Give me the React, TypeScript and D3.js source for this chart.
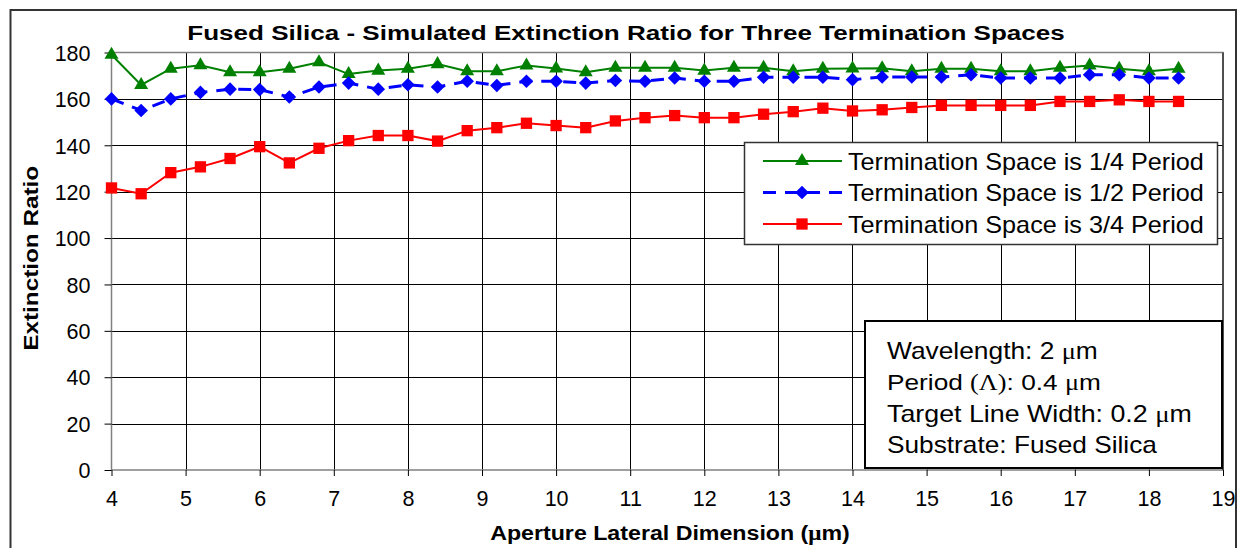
import React, { useEffect, useRef } from 'react';
import * as d3 from 'd3';

const apertures = d3.range(0, 37).map((i) => +(4 + i * 0.4).toFixed(1));

const quarterPeriod = [
  179, 166, 173, 174.5, 171.5, 171.5, 173, 175.8, 170.7, 172.2, 173, 175, 171.9,
  171.9, 174.4, 173.1, 171.5, 173.4, 173.4, 173.4, 172.2, 173.4, 173.4, 171.9, 173, 173.1,
  173.2, 171.9, 173, 173, 171.9, 171.9, 173.4, 174.4, 173, 171.9, 173,
];

const halfPeriod = [
  160, 155, 160, 162.8, 164.2, 164, 160.8, 165.1, 166.8, 164.2, 166.1, 165.1, 167.6,
  165.8, 167.6, 167.6, 166.8, 167.9, 167.6, 169, 167.6, 167.6, 169.3, 169.3, 169.3, 168.3,
  169.4, 169.4, 169.4, 170.4, 169, 169, 169, 170.4, 170.4, 169, 169,
];

const threeQuarterPeriod = [
  121.6, 119.1, 128.2, 130.7, 134.3, 139.4, 132.4, 138.7, 142, 144.2, 144.2, 141.8, 146.3,
  147.6, 149.5, 148.5, 147.6, 150.5, 151.9, 152.8, 151.9, 151.9, 153.4, 154.5, 156, 154.8,
  155.3, 156.3, 157.2, 157.2, 157.2, 157.2, 158.9, 158.9, 159.6, 158.9, 158.9,
];

const seriesNames = [
  'Termination Space is 1/4 Period',
  'Termination Space is 1/2 Period',
  'Termination Space is 3/4 Period',
];

const xTicks = d3.range(4, 20);
const yTicks = d3.range(0, 181, 20);

const FONT = 'Arial, "Liberation Sans", sans-serif';
const SYMBOL_FONT = '"Times New Roman", "Liberation Serif", serif';

// text squeezed/stretched horizontally to a target width, like the original rendering
const addText = (parent, x, y, parts, opts) => {
  const t = parent.append('text')
    .attr('font-size', opts.size)
    .attr('font-weight', opts.bold ? 'bold' : 'normal')
    .attr('text-anchor', opts.anchor || 'start')
    .attr('fill', '#000');
  parts.forEach(([txt, fam]) => {
    t.append('tspan').attr('font-family', fam || FONT).text(txt);
  });
  const rot = opts.rotate ? ` rotate(${opts.rotate})` : '';
  let sx = 1;
  if (opts.width) {
    const len = t.node().getComputedTextLength();
    if (len > 0) sx = opts.width / len;
  }
  t.attr('transform', `translate(${x},${y})${rot} scale(${sx},1)`);
  return t;
};

const App = () => {
  const chartRef = useRef(null);

  useEffect(() => {
    const width = 1238;
    const height = 548;
    const plot = { left: 111.5, right: 1223, top: 52.5, bottom: 470 };

    const xScale = d3.scaleLinear().domain([4, 19]).range([plot.left, plot.right]);
    const yScale = d3.scaleLinear().domain([0, 180]).range([plot.bottom, plot.top]);

    const svg = d3.select(chartRef.current)
      .append('svg')
      .attr('width', width)
      .attr('height', height)
      .style('display', 'block')
      .style('font-family', FONT);

    svg.append('rect')
      .attr('width', width)
      .attr('height', height)
      .attr('fill', '#fff');

    // outer frame
    svg.append('rect')
      .attr('x', 10.5)
      .attr('y', 10)
      .attr('width', 1225.5)
      .attr('height', 560)
      .attr('fill', 'none')
      .attr('stroke', '#333')
      .attr('stroke-width', 2);

    // grid
    svg.append('g')
      .selectAll('line')
      .data(xTicks.slice(1, -1))
      .enter()
      .append('line')
      .attr('x1', (d) => Math.round(xScale(d)) + 0.5)
      .attr('x2', (d) => Math.round(xScale(d)) + 0.5)
      .attr('y1', plot.top)
      .attr('y2', plot.bottom)
      .attr('stroke', '#000')
      .attr('stroke-width', 1);

    svg.append('g')
      .selectAll('line')
      .data(yTicks.slice(1, -1))
      .enter()
      .append('line')
      .attr('x1', plot.left)
      .attr('x2', plot.right)
      .attr('y1', (d) => Math.round(yScale(d)) + 0.5)
      .attr('y2', (d) => Math.round(yScale(d)) + 0.5)
      .attr('stroke', '#000')
      .attr('stroke-width', 1);

    // plot border
    svg.append('rect')
      .attr('x', plot.left)
      .attr('y', plot.top)
      .attr('width', plot.right - plot.left)
      .attr('height', plot.bottom - plot.top)
      .attr('fill', 'none')
      .attr('stroke', '#808080')
      .attr('stroke-width', 1.5);
    svg.append('line')
      .attr('x1', plot.right)
      .attr('x2', plot.right)
      .attr('y1', plot.top)
      .attr('y2', plot.bottom)
      .attr('stroke', '#000');

    // axes
    const yAxis = svg.append('g')
      .attr('transform', `translate(${plot.left},0)`)
      .call(d3.axisLeft(yScale).tickValues(yTicks).tickSize(7).tickPadding(14));
    const xAxis = svg.append('g')
      .attr('transform', `translate(0,${plot.bottom})`)
      .call(d3.axisBottom(xScale).tickValues(xTicks).tickSize(6).tickPadding(15));

    [yAxis, xAxis].forEach((ax) => {
      ax.select('.domain').remove();
      ax.selectAll('line').attr('stroke', '#000');
      ax.selectAll('text')
        .attr('font-family', FONT)
        .attr('font-size', 21.5)
        .attr('fill', '#000');
    });
    yAxis.selectAll('text').attr('dy', '0.36em');

    // title + axis labels
    addText(svg, 626, 40, [['Fused Silica - Simulated Extinction Ratio for Three Termination Spaces']],
      { size: 21, bold: true, anchor: 'middle', width: 878 });

    addText(svg, 38, (plot.top + plot.bottom) / 2 - 3, [['Extinction Ratio']],
      { size: 21, bold: true, anchor: 'middle', rotate: -90, width: 185 });

    addText(svg, 670, 540, [['Aperture Lateral Dimension ('], ['μ', SYMBOL_FONT], ['m)']],
      { size: 21, bold: true, anchor: 'middle', width: 360 });

    // series
    const series = [
      { name: seriesNames[0], values: quarterPeriod, color: '#008000', dash: null, width: 2, shape: d3.symbolTriangle, size: 85, rot: 0 },
      { name: seriesNames[1], values: halfPeriod, color: '#0000ff', dash: '13 9', width: 3, shape: d3.symbolSquare, size: 92, rot: 45 },
      { name: seriesNames[2], values: threeQuarterPeriod, color: '#ff0000', dash: null, width: 2, shape: d3.symbolSquare, size: 128, rot: 0 },
    ];

    const line = d3.line()
      .x((d) => xScale(d[0]))
      .y((d) => yScale(d[1]));

    series.forEach((s) => {
      const pts = apertures.map((a, i) => [a, s.values[i]]);
      svg.append('path')
        .datum(pts)
        .attr('d', line)
        .attr('fill', 'none')
        .attr('stroke', s.color)
        .attr('stroke-width', s.width)
        .attr('stroke-dasharray', s.dash);
      svg.append('g')
        .selectAll('path')
        .data(pts)
        .enter()
        .append('path')
        .attr('transform', (d) => `translate(${xScale(d[0])},${yScale(d[1])}) rotate(${s.rot})`)
        .attr('d', d3.symbol().type(s.shape).size(s.size))
        .attr('fill', s.color);
    });

    // legend
    const legend = svg.append('g').attr('transform', 'translate(744,142)');
    legend.append('rect')
      .attr('x', 0.5)
      .attr('y', 0.5)
      .attr('width', 473)
      .attr('height', 102)
      .attr('fill', '#fff')
      .attr('stroke', '#333')
      .attr('stroke-width', 1.5);
    series.forEach((s, i) => {
      const y = 19 + i * 31.5;
      legend.append('line')
        .attr('x1', 19)
        .attr('x2', 98)
        .attr('y1', y)
        .attr('y2', y)
        .attr('stroke', s.color)
        .attr('stroke-width', s.width)
        .attr('stroke-dasharray', s.dash);
      legend.append('path')
        .attr('transform', `translate(58,${y}) rotate(${s.rot})`)
        .attr('d', d3.symbol().type(s.shape).size(s.size))
        .attr('fill', s.color);
      addText(legend, 104, y + 8.5, [[s.name]], { size: 23, width: 356 });
    });

    // info box
    const info = svg.append('g').attr('transform', 'translate(865,321)');
    info.append('rect')
      .attr('x', 0)
      .attr('y', 0)
      .attr('width', 357)
      .attr('height', 147)
      .attr('fill', '#fff')
      .attr('stroke', '#000')
      .attr('stroke-width', 2);
    const infoLines = [
      { parts: [['Wavelength: 2 '], ['μ', SYMBOL_FONT], ['m']], w: 211 },
      { parts: [['Period '], ['(Λ)', SYMBOL_FONT], [': 0.4 '], ['μ', SYMBOL_FONT], ['m']], w: 214 },
      { parts: [['Target Line Width: 0.2 '], ['μ', SYMBOL_FONT], ['m']], w: 305 },
      { parts: [['Substrate: Fused Silica']], w: 270 },
    ];
    infoLines.forEach((ln, i) => {
      addText(info, 22, 38 + i * 31.3, ln.parts, { size: 23, width: ln.w });
    });

    return () => {
      svg.remove();
    };
  }, []);

  return <div ref={chartRef} style={{ position: 'absolute', left: 0, top: 0 }}></div>;
};

export default App;
